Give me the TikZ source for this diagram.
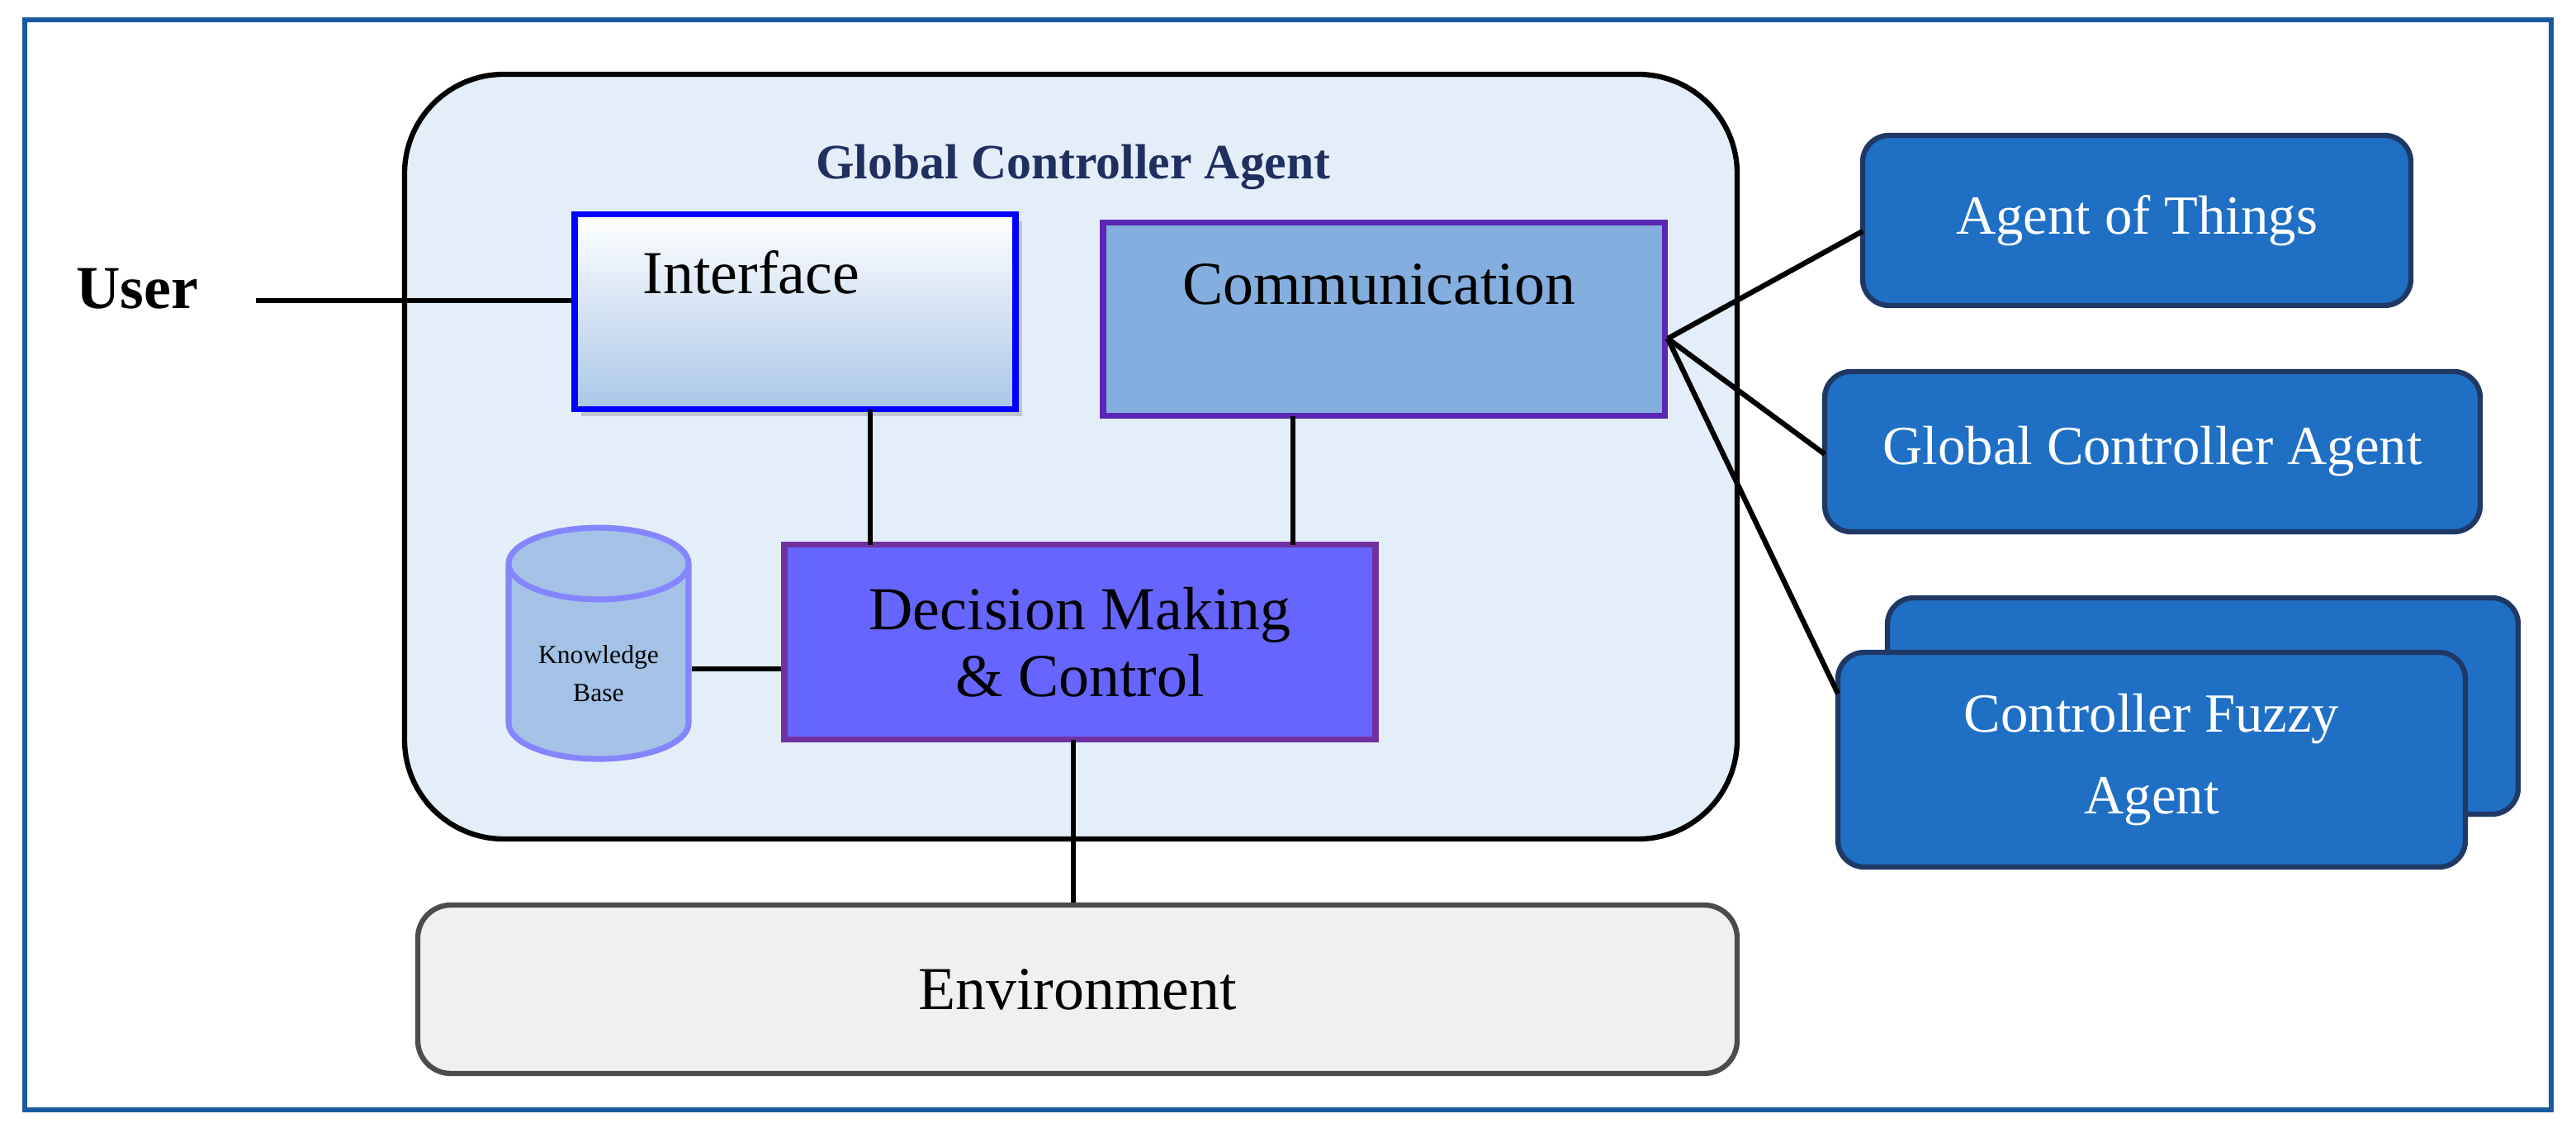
\documentclass[tikz,border=0pt]{standalone}
\usepackage{fontspec}
\setmainfont{Liberation Serif}
\usetikzlibrary{shapes.geometric,shadows}
\definecolor{bgb}{HTML}{E3EEF8}
\definecolor{comm}{HTML}{84AEDD}
\definecolor{dec}{HTML}{6666FF}
\definecolor{purp}{HTML}{7030A0}
\definecolor{rb}{HTML}{1F6FC5}
\definecolor{rbd}{HTML}{1F3864}
\definecolor{navy}{HTML}{1F2F5F}
\tikzset{
 rbox/.style={draw=rbd,fill=rb,line width=0.9pt,rounded corners=0.16cm,text=white,align=center,font=\fontsize{9.5}{11}\selectfont},
 ln/.style={line width=0.9pt},
 big/.style={font=\fontsize{10.5}{12.5}\selectfont},
}
\begin{document}
\begin{tikzpicture}[x=0.01cm,y=-0.01cm]
\useasboundingbox (0,0) rectangle (1560,683);
\draw[draw=rb!80!black,line width=0.8pt] (15,12) rectangle (1545,672);
\node[draw=black,fill=bgb,line width=0.9pt,rounded corners=0.6cm,minimum width=807*0.01cm,minimum height=463*0.01cm] (gca) at (648.5,276.5) {};
\node[font=\bfseries\fontsize{8.5}{10}\selectfont,text=navy] (title) at (650,101) {Global Controller Agent};
\node[draw=blue,line width=1pt,top color=white,bottom color=comm!70,minimum width=267*0.01cm,minimum height=118*0.01cm,drop shadow={opacity=0.35,shadow xshift=0.04cm,shadow yshift=-0.04cm}] (int) at (481.5,189) {};
\node[big] at (455,165) {Interface};
\node[draw=purp!80!blue,fill=comm,line width=1pt,minimum width=340*0.01cm,minimum height=117*0.01cm] (com) at (838,193.5) {};
\node[big] at (835,172) {Communication};
\node[draw=purp,fill=dec,line width=1pt,minimum width=358*0.01cm,minimum height=118*0.01cm,align=center,big] (dm) at (654,389) {Decision Making\\[-1pt]\& Control};
\node[cylinder,shape border rotate=90,draw=dec!80!white,fill=comm!75!white,line width=1pt,minimum width=109*0.01cm,minimum height=140*0.01cm,aspect=0.45,align=center,font=\fontsize{4.5}{5.5}\selectfont] (kb) at (362.5,408) {Knowledge\\[1pt]Base};
\node[draw=black!70,fill=black!6,line width=0.9pt,rounded corners=0.2cm,minimum width=799*0.01cm,minimum height=102*0.01cm,big] (env) at (652.5,599) {Environment};
\node[font=\bfseries\fontsize{10.5}{12.5}\selectfont] (user) at (83,175) {User};
\node[rbox,minimum width=332*0.01cm,minimum height=103*0.01cm] (aot) at (1294,133.5) {Agent of Things};
\node[rbox,minimum width=397*0.01cm,minimum height=97*0.01cm] (g2) at (1303.5,273.5) {Global Controller Agent};
\node[rbox,minimum width=382*0.01cm,minimum height=131*0.01cm] (back) at (1334,427.5) {};
\node[rbox,minimum width=380*0.01cm,minimum height=130*0.01cm] (cfa) at (1303,460) {Controller Fuzzy\\[3pt]Agent};
\coordinate (ce) at (1010,205);
\draw[ln] (155,182) -- (int.west|-0,182);
\draw[ln] (527,248) -- (527,330);
\draw[ln] (783,252) -- (783,330);
\draw[ln] (kb.east|-0,405) -- (dm.west|-0,405);
\draw[ln] (650,448) -- (env.north-|650,0);
\draw[ln] (ce) -- (1128,140);
\draw[ln] (ce) -- (1105,275);
\draw[ln] (ce) -- (1113,420);
\end{tikzpicture}
\end{document}
